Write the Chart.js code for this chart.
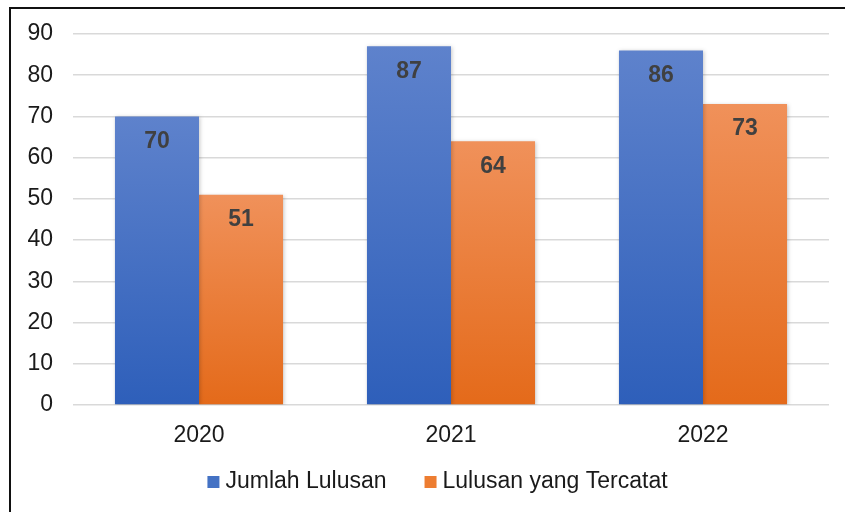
<!DOCTYPE html>
<html>
<head>
<meta charset="utf-8">
<script src="https://cdn.jsdelivr.net/npm/chart.js@4"></script>
<style>
    html, body { margin: 0; padding: 0; background: #fff; }
    #wrap { position: relative; width: 845px; height: 512px; overflow: hidden; }
    #frame { position: absolute; left: 9px; top: 7px; width: 900px; height: 600px;
             border-left: 2px solid #111; border-top: 2px solid #111; }
    canvas { position: absolute; left: 0; top: 0; }
</style>
</head>
<body>
<div id="wrap">
    <div id="frame"></div>
    <canvas id="chart" width="845" height="512"></canvas>
</div>
<script>
// 数据
const years = ['2020', '2021', '2022'];
const jumlahLulusan = [70, 87, 86];
const lulusanTercatat = [51, 64, 73];
const seriesNames = ['Jumlah Lulusan', 'Lulusan yang Tercatat'];
const legendColors = ['#4472C4', '#ED7D31'];

const FONT = '"Liberation Sans", Arial, sans-serif';

// 每根柱子从上到下的渐变
function barGradient(top, bottom) {
    return (context) => {
        const chart = context.chart;
        if (!chart.chartArea || context.parsed === undefined) return bottom;
        const y = chart.scales.y;
        const yTop = y.getPixelForValue(context.parsed.y);
        const yBase = y.getPixelForValue(0);
        const g = chart.ctx.createLinearGradient(0, yTop, 0, yBase);
        g.addColorStop(0, top);
        g.addColorStop(1, bottom);
        return g;
    };
}

// 柱内数值标签
const valueLabels = {
    id: 'valueLabels',
    afterDatasetsDraw(chart) {
        const ctx = chart.ctx;
        ctx.save();
        ctx.font = 'bold 23px ' + FONT;
        ctx.fillStyle = '#404040';
        ctx.textAlign = 'center';
        ctx.textBaseline = 'middle';
        chart.data.datasets.forEach((ds, i) => {
            chart.getDatasetMeta(i).data.forEach((bar, j) => {
                ctx.fillText(ds.data[j], bar.x, bar.y + 25);
            });
        });
        ctx.restore();
    }
};

// 柱子阴影
const barShadow = {
    id: 'barShadow',
    beforeDatasetsDraw(chart) {
        const ctx = chart.ctx;
        ctx.save();
        ctx.shadowColor = 'rgba(0,0,0,0.22)';
        ctx.shadowBlur = 4;
        ctx.shadowOffsetX = 1;
        ctx.shadowOffsetY = 1;
    },
    afterDatasetsDraw(chart) {
        chart.ctx.restore();
    }
};

// 底部图例 (自己画, 间距跟原图一致)
const bottomLegend = {
    id: 'bottomLegend',
    afterDraw(chart) {
        const ctx = chart.ctx;
        const box = 12, gapText = 6, gapItem = 38;
        ctx.save();
        ctx.font = '23px ' + FONT;
        ctx.textBaseline = 'middle';
        ctx.fillStyle = '#1a1a1a';
        const widths = seriesNames.map(t => ctx.measureText(t).width);
        const total = widths.reduce((s, w) => s + box + gapText + w, 0) + gapItem * (seriesNames.length - 1);
        let x = chart.width / 2 + 15 - total / 2;
        const y = 482;
        seriesNames.forEach((t, i) => {
            ctx.fillStyle = legendColors[i];
            ctx.fillRect(x, y - box / 2, box, box);
            x += box + gapText;
            ctx.fillStyle = '#1a1a1a';
            ctx.fillText(t, x, y);
            x += widths[i] + gapItem;
        });
        ctx.restore();
    }
};

Chart.defaults.font.family = FONT;
Chart.defaults.font.size = 23;
Chart.defaults.color = '#1a1a1a';

new Chart(document.getElementById('chart'), {
    type: 'bar',
    data: {
        labels: years,
        datasets: [
            {
                label: seriesNames[0],
                data: jumlahLulusan,
                backgroundColor: barGradient('#5E82CC', '#2E5FBA')
            },
            {
                label: seriesNames[1],
                data: lulusanTercatat,
                backgroundColor: barGradient('#F0915A', '#E46A1A')
            }
        ]
    },
    options: {
        responsive: false,
        animation: false,
        layout: { padding: { left: 0, right: 16, top: 34, bottom: 57 } },
        datasets: {
            bar: {
                categoryPercentage: 0.667,
                barPercentage: 1,
                borderWidth: 0
            }
        },
        plugins: {
            legend: { display: false },
            tooltip: { enabled: false }
        },
        scales: {
            x: {
                grid: { display: false, drawTicks: false },
                border: { display: false },
                ticks: { padding: 17, color: '#1a1a1a' },
                afterFit(scale) { scale.height = 50; }
            },
            y: {
                min: 0,
                max: 90,
                ticks: { stepSize: 10, padding: 20, color: '#1a1a1a' },
                grid: { color: '#d9d9d9', lineWidth: 1.5, drawTicks: false },
                border: { display: false },
                afterFit(scale) { scale.width = 73; }
            }
        }
    },
    plugins: [barShadow, valueLabels, bottomLegend]
});
</script>
</body>
</html>
